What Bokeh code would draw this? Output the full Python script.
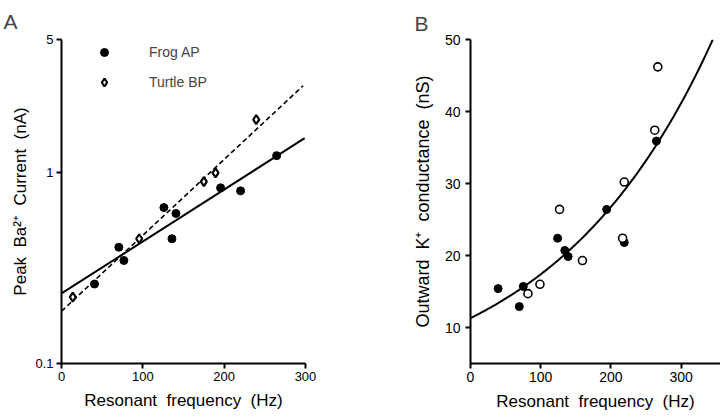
from bokeh.plotting import figure
from bokeh.layouts import row
from bokeh.models import Range1d, FixedTicker, Legend, LegendItem
from bokeh.embed import file_html
from bokeh.resources import INLINE
import numpy as np

FONT = "Liberation Sans"
NB = "\u00a0"

# ---------------- Panel A data ----------------
frog_x = [40.6, 70.5, 76.7, 125.9, 135.8, 140.7, 195.6, 220.2, 264.5]
frog_y = [0.261, 0.407, 0.347, 0.657, 0.451, 0.612, 0.834, 0.804, 1.23]
turtle_x = [13.9, 95.5, 175.0, 189.4, 239.4]
turtle_y = [0.223, 0.451, 0.898, 1.00, 1.90]
# fitted lines (end points; straight on log axis)
frog_fit_x = [0, 299]
frog_fit_y = [0.233, 1.52]
turtle_fit_x = [0, 297]
turtle_fit_y = [0.188, 2.86]
a_yticks = [0.1, 1, 5]
a_xticks = [0, 100, 200, 300]

# ---------------- Panel B data ----------------
bf_x = [39.3, 69.5, 75.2, 124.0, 134.3, 139.0, 193.9, 219.0, 264.8]
bf_y = [15.4, 12.9, 15.7, 22.4, 20.7, 19.85, 26.4, 21.8, 35.9]
bo_x = [81.8, 98.9, 126.8, 159.4, 216.6, 219.0, 262.4, 266.7]
bo_y = [14.7, 16.0, 26.4, 19.3, 22.4, 30.2, 37.4, 46.2]
# exponential fit g = a * exp(k * f)
fit_a = 11.3
fit_k = 0.00431
fit_xmax = 345
b_yticks = [10, 20, 30, 40, 50]
b_xticks = [0, 100, 200, 300]


def sp(s):
    return s.replace(" ", NB + NB)


def style(p, tick_font):
    p.grid.visible = False
    p.outline_line_color = None
    p.background_fill_color = "white"
    p.border_fill_color = "white"
    for ax in (p.xaxis[0], p.yaxis[0]):
        ax.axis_line_width = 2
        ax.axis_line_color = "black"
        ax.major_tick_line_width = 2
        ax.major_tick_out = 5
        ax.major_tick_in = 0
        ax.minor_tick_line_color = None
        ax.major_label_text_font = FONT
        ax.major_label_text_font_size = tick_font
        ax.major_label_text_color = "black"
        ax.axis_label_text_font = FONT
        ax.axis_label_text_font_style = "normal"
        ax.axis_label_text_color = "black"
        ax.axis_label_text_font_size = "17px"
    p.xaxis.major_label_standoff = 3
    p.xaxis.axis_label_standoff = 7
    p.xaxis.axis_label = sp("Resonant frequency (Hz)")
    p.title.text_font = FONT
    p.title.text_font_size = "21px"
    p.title.text_font_style = "normal"
    p.title.align = "left"


# ---------------- Panel A ----------------
pA = figure(width=409, height=418, x_range=Range1d(0, 300), y_range=Range1d(0.1, 5),
            y_axis_type="log", output_backend="svg", toolbar_location=None,
            title="A",
            min_border_left=61, min_border_right=104, min_border_top=37, min_border_bottom=54)
style(pA, "13px")
pA.title.offset = -58
pA.title.standoff = 14
pA.xaxis.ticker = FixedTicker(ticks=a_xticks)
pA.yaxis.ticker = FixedTicker(ticks=a_yticks)
pA.yaxis.major_label_overrides = {0.1: "0.1", 1: "1", 5: "5"}
pA.yaxis.axis_label = sp("Peak Ba\u00b2\u207a Current (nA)")
pA.yaxis.major_label_standoff = 3
pA.yaxis.axis_label_standoff = 2

pA.line(frog_fit_x, frog_fit_y, line_color="black", line_width=2)
pA.line(turtle_fit_x, turtle_fit_y, line_color="black", line_width=1.6, line_dash="5 3")
r_frog = pA.scatter(frog_x, frog_y, size=8, fill_color="black", line_color="black")
r_turtle = pA.scatter(turtle_x, turtle_y, marker="diamond", size=9,
                      fill_color="white", line_color="black", line_width=2.2)

leg = Legend(items=[LegendItem(label="Frog AP", renderers=[r_frog]),
                    LegendItem(label="Turtle BP", renderers=[r_turtle])],
             location=(33, 271), padding=0, margin=0, spacing=10,
             glyph_width=20, glyph_height=20, label_height=20, label_standoff=35,
             border_line_color=None, background_fill_alpha=0,
             label_text_font=FONT, label_text_font_size="14px")
pA.add_layout(leg)

# ---------------- Panel B ----------------
pB = figure(width=311, height=418, x_range=Range1d(0, 356), y_range=Range1d(5, 50),
            output_backend="svg", toolbar_location=None, title="B",
            min_border_left=60, min_border_right=0, min_border_top=33, min_border_bottom=55)
style(pB, "14px")
pB.title.offset = -56
pB.title.standoff = 9
pB.xaxis.ticker = FixedTicker(ticks=b_xticks)
pB.yaxis.ticker = FixedTicker(ticks=b_yticks)
pB.yaxis.axis_label = sp("Outward K\u207a conductance (nS)")
pB.yaxis.axis_label_text_font_size = "18px"
pB.yaxis.major_label_standoff = 5
pB.yaxis.axis_label_standoff = 9

fx = np.linspace(0, fit_xmax, 200)
pB.line(fx, fit_a * np.exp(fit_k * fx), line_color="black", line_width=2)
pB.scatter(bf_x, bf_y, size=8, fill_color="black", line_color="black")
pB.scatter(bo_x, bo_y, size=8, fill_color="white", line_color="black", line_width=1.6)

layout = row(pA, pB)
open("out.html", "w").write(file_html(layout, INLINE))
